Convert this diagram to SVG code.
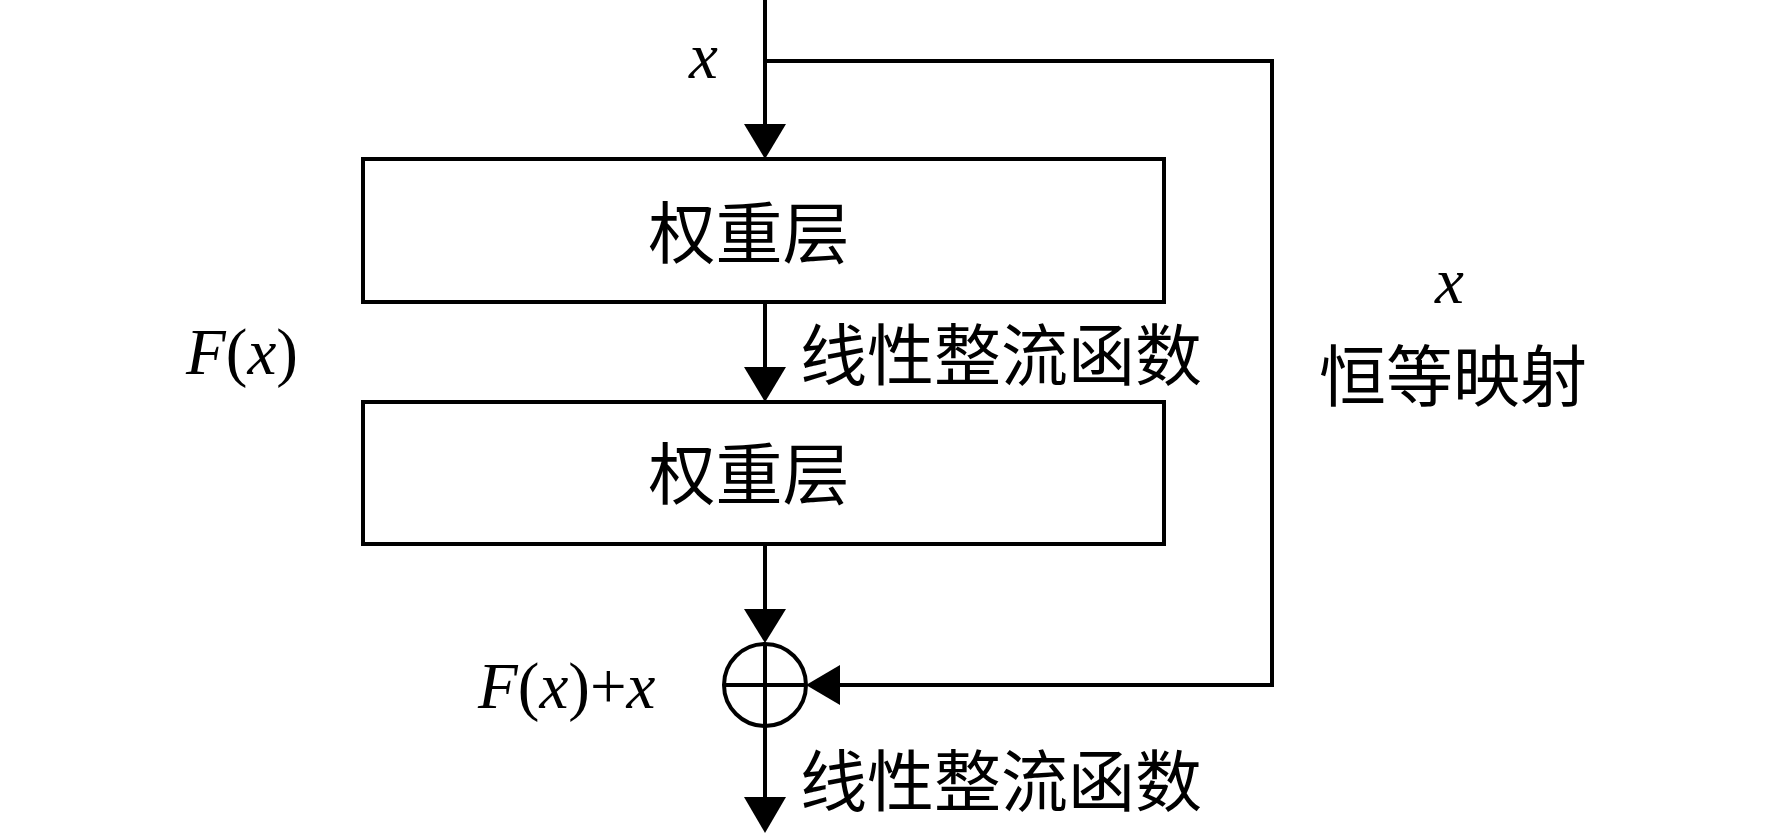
<svg xmlns="http://www.w3.org/2000/svg" width="1772" height="833" viewBox="0 0 1772 833">
<style>
.box{fill:#fff;stroke:#000;stroke-width:4}
.ln{fill:none;stroke:#000;stroke-width:4}
.ah{fill:#000;stroke:none}
.cjk{font-family:"Liberation Serif","Noto Sans CJK SC",serif;font-size:67px;fill:#000;dominant-baseline:central}
.m{font-family:"Liberation Serif","Times New Roman",serif;font-size:65px;fill:#000}
.i{font-style:italic}
</style>
<rect width="1772" height="833" fill="#fff"/>
<g id="connectors">
<line class="ln" x1="765" y1="0" x2="765" y2="126"/>
<polygon class="ah" points="744,124 786,124 765,159"/>
<polyline class="ln" points="765,61 1272,61 1272,685 838,685"/>
<polygon class="ah" points="840,665 840,705 806,685"/>
<line class="ln" x1="765" y1="302" x2="765" y2="369"/>
<polygon class="ah" points="744,367 786,367 765,402"/>
<line class="ln" x1="765" y1="544" x2="765" y2="611"/>
<polygon class="ah" points="744,609 786,609 765,643"/>
<line class="ln" x1="765" y1="726" x2="765" y2="799"/>
<polygon class="ah" points="744,797 786,797 765,833"/>
</g>
<g id="layer1">
<rect class="box" x="363" y="159" width="801" height="143"/>
<text class="cjk" x="749" y="235" text-anchor="middle">权重层</text>
</g>
<g id="layer2">
<rect class="box" x="363" y="402" width="801" height="142"/>
<text class="cjk" x="749" y="476" text-anchor="middle">权重层</text>
</g>
<g id="sum">
<circle class="ln" cx="765" cy="685" r="41"/>
<line class="ln" x1="765" y1="644" x2="765" y2="726"/>
<line class="ln" x1="724" y1="685" x2="806" y2="685"/>
</g>
<g id="labels">
<text class="m i" x="689" y="78">x</text>
<text class="m" x="186" y="374"><tspan class="i">F</tspan>(<tspan class="i">x</tspan>)</text>
<text class="m" x="478" y="708"><tspan class="i">F</tspan>(<tspan class="i">x</tspan>)+<tspan class="i">x</tspan></text>
<text class="m i" x="1435" y="303">x</text>
<text class="cjk" x="1453" y="378" text-anchor="middle">恒等映射</text>
<text class="cjk" x="800" y="357">线性整流函数</text>
<text class="cjk" x="800" y="783">线性整流函数</text>
</g>
</svg>
